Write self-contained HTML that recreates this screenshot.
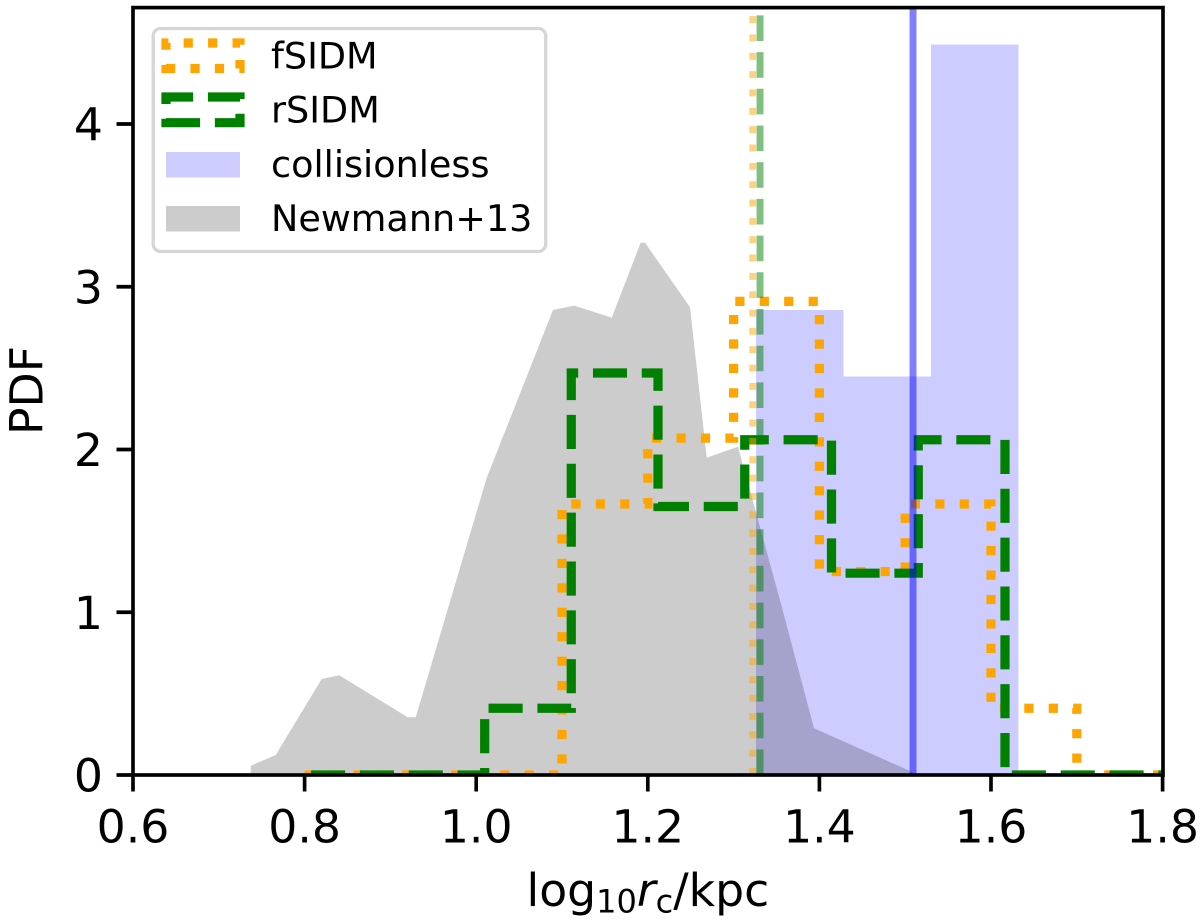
<!DOCTYPE html>
<html>
<head>
<meta charset="utf-8">
<title>PDF of log10 rc</title>
<style>
html,body{margin:0;padding:0;background:#fff;}
svg{display:block;}
text{font-family:"DejaVu Sans","Liberation Sans",sans-serif;fill:#000;}
</style>
</head>
<body>
<svg id="chart" xmlns="http://www.w3.org/2000/svg" width="1200" height="922" viewBox="0 0 1200 922">
  <defs>
    <clipPath id="plot-clip"><rect x="133" y="7.6" width="1030" height="767.4"/></clipPath>
  </defs>
  <rect x="0" y="0" width="1200" height="922" fill="#fff"/>
  <g id="marks" clip-path="url(#plot-clip)"></g>
  <g id="axes"></g>
  <text x="526.5" y="906" font-size="45.7">log<tspan font-size="32" dy="6.7">10</tspan><tspan font-style="italic" dy="-6.7">r</tspan><tspan font-size="32" dy="6.7">c</tspan><tspan dy="-6.7">/kpc</tspan></text>
  <text x="0" y="0" font-size="45.7" text-anchor="middle" transform="translate(42.7,390.5) rotate(-90)">PDF</text>
  <g>
    <rect x="153.2" y="28.5" width="392.5" height="223" rx="7.5" ry="7.5" fill="#fff" fill-opacity="0.8" stroke="#ccc" stroke-opacity="0.8" stroke-width="3.3"/>
    <path d="M166,68.5 H240 V43 H166 Z" fill="none" stroke="#ffa500" stroke-width="9.22" stroke-dasharray="9.22 15.22"/>
    <text x="271" y="68.5" font-size="36.6">fSIDM</text>
    <path d="M166,122.7 H240 V97 H166 Z" fill="none" stroke="#008000" stroke-width="9.22" stroke-dasharray="34.1 14.75"/>
    <text x="271" y="122.7" font-size="36.6">rSIDM</text>
    <rect x="166" y="152" width="74" height="25.5" fill="#ccccff"/>
    <text x="271" y="177" font-size="36.6">collisionless</text>
    <rect x="166" y="206" width="74" height="25.5" fill="#cccccc"/>
    <text x="271" y="231" font-size="36.6">Newmann+13</text>
  </g>
</svg>
<script>
var xTicks = [0.6, 0.8, 1.0, 1.2, 1.4, 1.6, 1.8];
var xTickLabels = ["0.6", "0.8", "1.0", "1.2", "1.4", "1.6", "1.8"];
var yTicks = [0, 1, 2, 3, 4];
var yTickLabels = ["0", "1", "2", "3", "4"];

var newmannX = [0.7372, 0.7372, 0.7663, 0.8199, 0.8404, 0.9202, 0.9295, 1.0122, 1.0895, 1.114, 1.158, 1.1917, 1.1967, 1.2492, 1.2687, 1.3051, 1.3269, 1.354, 1.3937, 1.5076, 1.5126];
var newmannY = [0, 0.057, 0.123, 0.59, 0.613, 0.355, 0.355, 1.825, 2.857, 2.884, 2.81, 3.271, 3.271, 2.874, 1.95, 2.017, 1.598, 1.075, 0.287, 0.02, 0];

var collisionlessEdges = [1.3261, 1.4283, 1.5301, 1.6323];
var collisionlessValues = [2.857, 2.45, 4.49];

var fsidmEdges = [0.8, 0.9, 1.0, 1.1, 1.2, 1.3, 1.4, 1.5, 1.6, 1.7, 1.8];
var fsidmValues = [0, 0, 0, 1.665, 2.07, 2.91, 1.25, 1.665, 0.41, 0];

var rsidmEdges = [0.8075, 0.9086, 1.0099, 1.1108, 1.2119, 1.313, 1.4141, 1.5152, 1.6163, 1.7174, 1.8185];
var rsidmValues = [0, 0, 0.41, 2.47, 1.65, 2.06, 1.24, 2.06, 0, 0];

var fsidmMedian = 1.3223;
var rsidmMedian = 1.3308;
var collisionlessMedian = 1.5091;

var NS = "http://www.w3.org/2000/svg";
function sx(v) { return 133 + (v - 0.6) * 858; }
function sy(v) { return 775 - v * 162.75; }
function mk(tag, attrs, parent) {
  var el = document.createElementNS(NS, tag);
  for (var k in attrs) { el.setAttribute(k, attrs[k]); }
  parent.appendChild(el);
  return el;
}
function stepPath(edges, values) {
  var d = "M" + sx(edges[0]) + "," + sy(0);
  for (var i = 0; i < values.length; i++) {
    d += " L" + sx(edges[i]) + "," + sy(values[i]);
    d += " L" + sx(edges[i + 1]) + "," + sy(values[i]);
  }
  d += " L" + sx(edges[edges.length - 1]) + "," + sy(0);
  return d;
}
var marks = document.getElementById("marks");
var axes = document.getElementById("axes");

var barsGroup = mk("g", {}, marks);


for (var b = 0; b < collisionlessValues.length; b++) {
  var bar = mk("rect", {
    x: sx(collisionlessEdges[b]),
    y: sy(collisionlessValues[b]),
    width: sx(collisionlessEdges[b + 1]) - sx(collisionlessEdges[b]),
    height: sy(0) - sy(collisionlessValues[b]),
    fill: "#0000ff",
    "fill-opacity": 0.2,
    "shape-rendering": "crispEdges"
  }, barsGroup);
  
  
}

var areaPts = newmannX.map(function (v, i) { return sx(v) + "," + sy(newmannY[i]); }).join(" ");
var area = mk("polygon", { points: areaPts, fill: "#000", "fill-opacity": 0.2 }, marks);



var fsidmLine = mk("path", {
  d: stepPath(fsidmEdges, fsidmValues),
  fill: "none", stroke: "#ffa500", "stroke-width": 9.22,
  "stroke-dasharray": "9.22 15.22", "stroke-miterlimit": 10
}, marks);



var rsidmLine = mk("path", {
  d: stepPath(rsidmEdges, rsidmValues),
  fill: "none", stroke: "#008000", "stroke-width": 9.22,
  "stroke-dasharray": "34.1 14.75", "stroke-miterlimit": 10
}, marks);



var fsidmV = mk("line", {
  x1: sx(fsidmMedian), x2: sx(fsidmMedian), y1: 775, y2: 7.6,
  stroke: "#ffa500", "stroke-opacity": 0.5, "stroke-width": 6.92, "stroke-dasharray": "6.92 11.42"
}, marks);



var rsidmV = mk("line", {
  x1: sx(rsidmMedian), x2: sx(rsidmMedian), y1: 775, y2: 7.6,
  stroke: "#008000", "stroke-opacity": 0.5, "stroke-width": 6.92, "stroke-dasharray": "25.6 11.1"
}, marks);



var collV = mk("line", {
  x1: sx(collisionlessMedian), x2: sx(collisionlessMedian), y1: 775, y2: 7.6,
  stroke: "#0000ff", "stroke-opacity": 0.5, "stroke-width": 6.92
}, marks);



xTicks.forEach(function (v, i) {
  var t = mk("line", { x1: sx(v), x2: sx(v), y1: 775, y2: 791.5, stroke: "#000", "stroke-width": 3.66 }, axes);
  
  
  var l = mk("text", { x: sx(v), y: 842.7, "font-size": 45.7, "text-anchor": "middle" }, axes);
  l.textContent = xTickLabels[i];
  
  
});
yTicks.forEach(function (v, i) {
  var t = mk("line", { x1: 133, x2: 116.5, y1: sy(v), y2: sy(v), stroke: "#000", "stroke-width": 3.66 }, axes);
  
  
  var l = mk("text", { x: 103, y: sy(v) + 16.6, "font-size": 45.7, "text-anchor": "end" }, axes);
  l.textContent = yTickLabels[i];
  
  
});
var frame = mk("rect", { x: 133, y: 7.6, width: 1030, height: 767.4, fill: "none", stroke: "#000", "stroke-width": 3.66 }, axes);


</script>
</body>
</html>
